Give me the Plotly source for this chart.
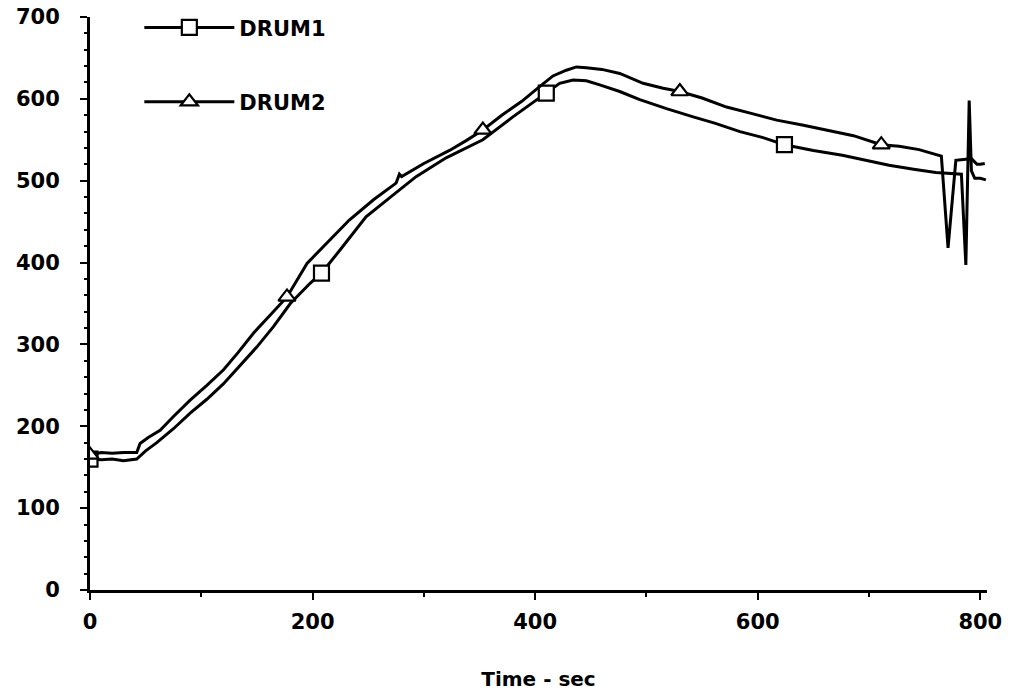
import plotly.graph_objects as go

# Drum temperatures
drum1_time = [0, 10, 20, 30, 42, 50, 60, 75, 90, 105, 120, 135, 150, 165, 180, 198, 208,
              225, 248, 270, 293, 320, 353, 380, 410, 422, 434, 446, 458, 476, 494, 518,
              542, 562, 584, 604, 624, 650, 676, 697, 718, 740, 760, 783, 787, 790, 792,
              795, 800, 805]
drum1_temp = [160, 159, 160, 158, 160, 170, 180, 197, 216, 233, 252, 274, 297, 322, 350, 375, 387,
              416, 456, 480, 505, 528, 550, 578, 607, 619, 623, 622, 617, 609, 599, 588,
              578, 570, 560, 553, 544, 537, 531, 525, 519, 514, 510, 508, 397, 598, 512,
              503, 503, 501]

drum2_time = [0, 10, 20, 30, 42, 45, 52, 63, 75, 90, 105, 120, 133, 147, 162, 177, 195, 213,
              233, 255, 275, 278, 280, 300, 323, 338, 353, 370, 388, 404, 416, 428, 437,
              446, 460, 476, 497, 515, 530, 550, 572, 595, 617, 640, 662, 686, 711, 727,
              745, 763, 765, 771, 778, 785, 792, 797, 800, 804]
drum2_temp = [165, 168, 167, 168, 168, 179, 186, 195, 212, 232, 250, 269, 290, 314, 336, 358, 399, 424,
              452, 477, 497, 508, 505, 521, 537, 549, 562, 580, 597, 615, 628, 635, 639,
              638, 636, 631, 619, 613, 609, 601, 590, 582, 574, 568, 562, 555, 544, 542,
              538, 531, 530, 418, 525, 526, 527, 520, 520, 521]

drum1_marker_time = [0, 208, 410, 624]
drum2_marker_time = [0, 177, 353, 530, 711]

x_ticks = [0, 200, 400, 600, 800]
y_ticks = [0, 100, 200, 300, 400, 500, 600, 700]

FONT = "DejaVu Sans"


def marker_points(times, temps, marker_times):
    pts = [(t, v) for t, v in zip(times, temps) if t in marker_times]
    return [p[0] for p in pts], [p[1] for p in pts]


def add_drum(fig, name, times, temps, marker_times, symbol):
    fig.add_trace(
        go.Scatter(x=times, y=temps, mode="lines", showlegend=False,
                   line={"color": "black", "width": 3})
    )
    mx, my = marker_points(times, temps, marker_times)
    fig.add_trace(
        go.Scatter(x=mx, y=my, mode="markers", showlegend=False,
                   marker={"symbol": symbol, "size": 15, "color": "white",
                           "line": {"color": "black", "width": 2.2}})
    )
    # legend-only entry
    fig.add_trace(
        go.Scatter(x=[None], y=[None], mode="lines+markers", name=name, legendgroup=name,
                   line={"color": "black", "width": 3},
                   marker={"symbol": symbol, "size": 15, "color": "white",
                           "line": {"color": "black", "width": 2.2}})
    )


fig = go.Figure()
add_drum(fig, "DRUM1", drum1_time, drum1_temp, drum1_marker_time, "square")
add_drum(fig, "DRUM2", drum2_time, drum2_temp, drum2_marker_time, "triangle-up")

tick_font = {"family": FONT, "size": 21, "color": "black", "weight": "bold"}
common = {"showgrid": False, "zeroline": False, "color": "black", "automargin": False}

fig.update_layout(
    width=1013,
    height=700,
    margin={"l": 90, "r": 26, "t": 17, "b": 110, "autoexpand": False},
    paper_bgcolor="white",
    plot_bgcolor="white",
    font={"family": FONT, "color": "black"},
    xaxis={
        **common,
        "range": [0, 806],
        "tickvals": x_ticks,
        "showline": True,
        "linewidth": 3,
        "linecolor": "black",
        "ticks": "outside",
        "ticklen": 7,
        "tickwidth": 2,
        "minor": {"dtick": 100, "ticks": "outside", "ticklen": 4, "tickwidth": 2},
        "tickfont": tick_font,
        "ticklabelstandoff": 4,
        "title": {"text": "Time - sec", "font": {"family": FONT, "size": 20, "weight": "bold"},
                  "standoff": 39},
    },
    yaxis={
        **common,
        "range": [0, 700],
        "tickvals": y_ticks,
        "showline": True,
        "linewidth": 3,
        "linecolor": "black",
        "ticks": "outside",
        "ticklen": 7,
        "tickwidth": 2,
        "minor": {"dtick": 20, "ticks": "outside", "ticklen": 3, "tickwidth": 2},
        "tickfont": tick_font,
        "ticklabelstandoff": 16,
    },
    # inside ticks on overlay axes so the marks cross the axis lines
    xaxis2={**common, "range": [0, 806], "tickvals": x_ticks, "overlaying": "x", "anchor": "y",
            "side": "bottom", "ticks": "inside", "ticklen": 7, "tickwidth": 2,
            "showticklabels": False,
            "minor": {"dtick": 100, "ticks": "inside", "ticklen": 4, "tickwidth": 2}},
    yaxis2={**common, "range": [0, 700], "tickvals": y_ticks, "overlaying": "y", "anchor": "x",
            "side": "left", "ticks": "inside", "ticklen": 7, "tickwidth": 2,
            "showticklabels": False,
            "minor": {"dtick": 20, "ticks": "inside", "ticklen": 3, "tickwidth": 2}},
    legend={
        "x": 0.055,
        "y": 1.017,
        "xanchor": "left",
        "yanchor": "top",
        "bgcolor": "rgba(0,0,0,0)",
        "font": {"family": FONT, "size": 21, "weight": "bold", "color": "black"},
        "tracegroupgap": 44,
        "itemwidth": 90,
    },
)

# drop the default body margin so the figure fills the window exactly
fig.write_html(
    "out.html",
    config={"displayModeBar": False},
    post_script="document.body.style.margin = '0';",
)
